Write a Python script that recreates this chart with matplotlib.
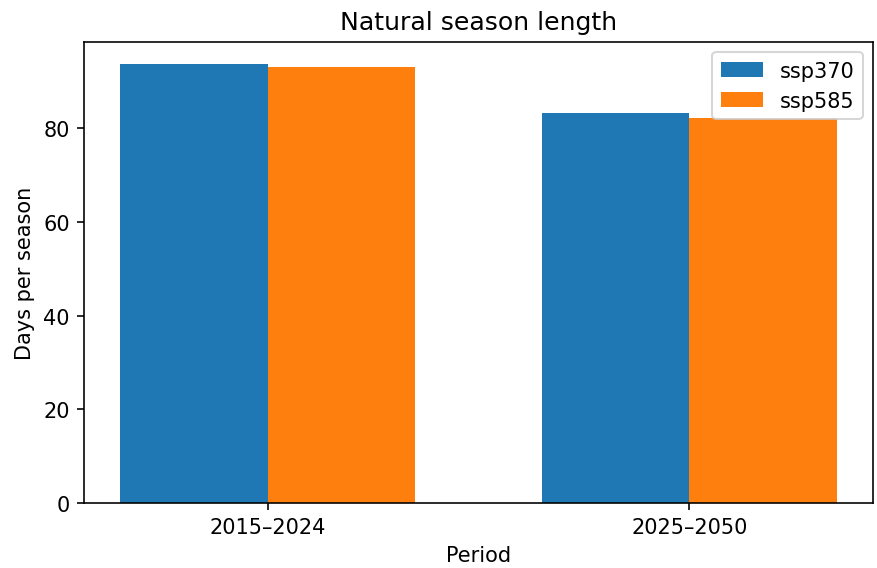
import numpy as np
import matplotlib.pyplot as plt

periods = ["2015–2024", "2025–2050"]
ssp370 = [93.8, 83.3]
ssp585 = [93.0, 82.3]

plt.rcParams["font.size"] = 10.3

x = np.arange(len(periods))
width = 0.35

fig, ax = plt.subplots(figsize=(6.0, 3.888), dpi=146.33)
ax.bar(x - width/2, ssp370, width, label="ssp370")
ax.bar(x + width/2, ssp585, width, label="ssp585")

ax.set_xticks(x)
ax.set_xticklabels(periods)
ax.set(title="Natural season length", xlabel="Period", ylabel="Days per season")
ax.legend(loc="upper right")

fig.subplots_adjust(left=0.0957, right=0.9943, top=0.925, bottom=0.1142)
fig.savefig("out.png", dpi=146.33)
